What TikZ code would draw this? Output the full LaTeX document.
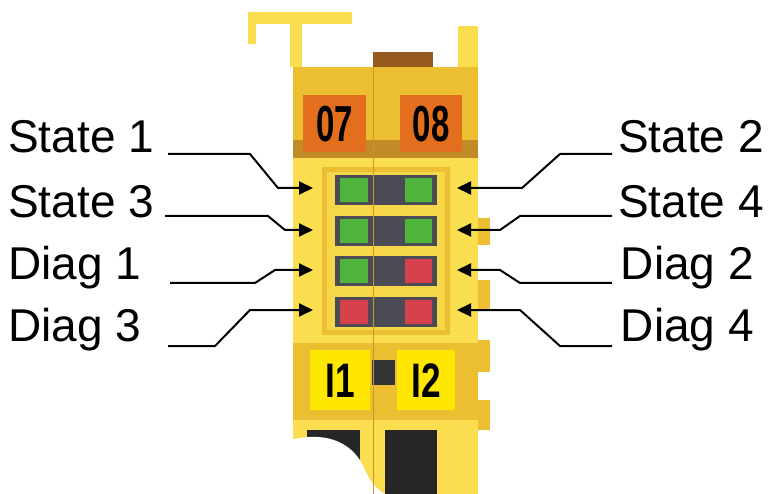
\documentclass[tikz,border=0pt]{standalone}
\usepackage{fontspec}
\setmainfont{Liberation Sans}
\usetikzlibrary{arrows.meta}
\tikzset{
 lbl/.style={font=\fontsize{46}{46}\selectfont, inner sep=0pt},
 ptr/.style={line width=2pt, -{Triangle[length=14pt,width=13pt]}},
 tag/.style={font=\fontsize{44}{44}\selectfont\bfseries, inner sep=0pt},
}
\definecolor{ybody}{RGB}{250,222,80}
\definecolor{ydark}{RGB}{236,190,50}
\definecolor{orng}{RGB}{226,110,30}
\definecolor{brn}{RGB}{150,90,30}
\definecolor{gled}{RGB}{80,180,60}
\definecolor{rled}{RGB}{215,65,75}
\definecolor{gled2}{RGB}{75,75,85}
\begin{document}
\begin{tikzpicture}[x=1pt,y=-1pt]
\useasboundingbox (0,0) rectangle (776,494);
\fill[white] (0,0) rectangle (776,494);
% hook
\fill[ybody] (248,12) rectangle (352,24);
\fill[ybody] (248,12) rectangle (256,44);
\fill[ybody] (290,20) rectangle (302,67);
\fill[ybody] (458,26) rectangle (478,67);
\fill[brn] (373,52) rectangle (433,67);
% body
\fill[ybody] (293,67) rectangle (478,494);
\fill[ydark] (293,67) rectangle (478,158);
\fill[brn!50!ydark] (293,140) rectangle (478,158);
\fill[ydark] (478,218) rectangle (490,245);
\fill[ydark] (478,280) rectangle (490,310);
\fill[ydark] (478,340) rectangle (490,372);
\fill[ydark] (478,400) rectangle (490,430);
\fill[ydark] (293,343) rectangle (478,420);
\fill[orng] (303,95) rectangle (366,152);
\fill[orng] (400,95) rectangle (462,152);
\node[tag] (n07) at (334.5,124) {\scalebox{0.75}[1.15]{07}};
\node[tag] (n08) at (431,124) {\scalebox{0.75}[1.15]{08}};
% LED window
\fill[ydark] (322,167) rectangle (450,335);
\fill[ybody!80!ydark] (327,172) rectangle (445,330);
\foreach \y/\a/\b in {175/gled/gled,216/gled/gled,256/gled/rled,297/rled/rled}{
  \fill[gled2] (335,\y) rectangle (437,\y+30);
  \fill[\a] (340,\y+3) rectangle (368,\y+27);
  \fill[\b] (405,\y+3) rectangle (432,\y+27);
}
% input tags
\fill[yellow!90!orange] (310,350) rectangle (370,410);
\fill[yellow!90!orange] (397,350) rectangle (455,410);
\fill[black!80] (372,360) rectangle (395,385);
\node[tag,font=\fontsize{44}{44}\rmfamily\bfseries] (i1) at (340,381) {\scalebox{0.8}[1.1]{I1}};
\node[tag,font=\fontsize{44}{44}\rmfamily\bfseries] (i2) at (426,381) {\scalebox{0.8}[1.1]{I2}};
% bottom
\fill[black!85] (307,430) rectangle (360,494);
\fill[black!85] (385,430) rectangle (437,494);
\fill[white] (290,440) .. controls (330,430) and (355,445) .. (365,470) .. controls (372,485) and (378,490) .. (385,494) -- (290,494) -- cycle;
\draw[brn!40!ydark,line width=0.6pt] (373,67) -- (373,494);
% labels
\node[lbl,anchor=west] (s1) at (8,137) {State 1};
\node[lbl,anchor=west] (s3) at (8,202) {State 3};
\node[lbl,anchor=west] (d1) at (8,268) {Diag 1};
\node[lbl,anchor=west] (d3) at (8,330) {Diag 3};
\node[lbl,anchor=east] (s2) at (764,137) {State 2};
\node[lbl,anchor=east] (s4) at (764,202) {State 4};
\node[lbl,anchor=east] (d2) at (754,268) {Diag 2};
\node[lbl,anchor=east] (d4) at (754,330) {Diag 4};
\coordinate (a1) at (313,188); \coordinate (a3) at (313,230);
\coordinate (a5) at (313,270); \coordinate (a7) at (313,310);
\coordinate (b1) at (457,188); \coordinate (b3) at (457,230);
\coordinate (b5) at (457,270); \coordinate (b7) at (457,310);
\draw[ptr] (168,154) -- (250,154) -- (278,188) -- (a1);
\draw[ptr] (165,216) -- (268,216) -- (285,230) -- (a3);
\draw[ptr] (170,283) -- (255,283) -- (275,270) -- (a5);
\draw[ptr] (168,346) -- (215,346) -- (250,310) -- (a7);
\draw[ptr] (612,154) -- (560,154) -- (522,188) -- (b1);
\draw[ptr] (612,216) -- (520,216) -- (500,230) -- (b3);
\draw[ptr] (612,283) -- (520,283) -- (500,270) -- (b5);
\draw[ptr] (612,346) -- (560,346) -- (520,310) -- (b7);
\end{tikzpicture}
\end{document}
